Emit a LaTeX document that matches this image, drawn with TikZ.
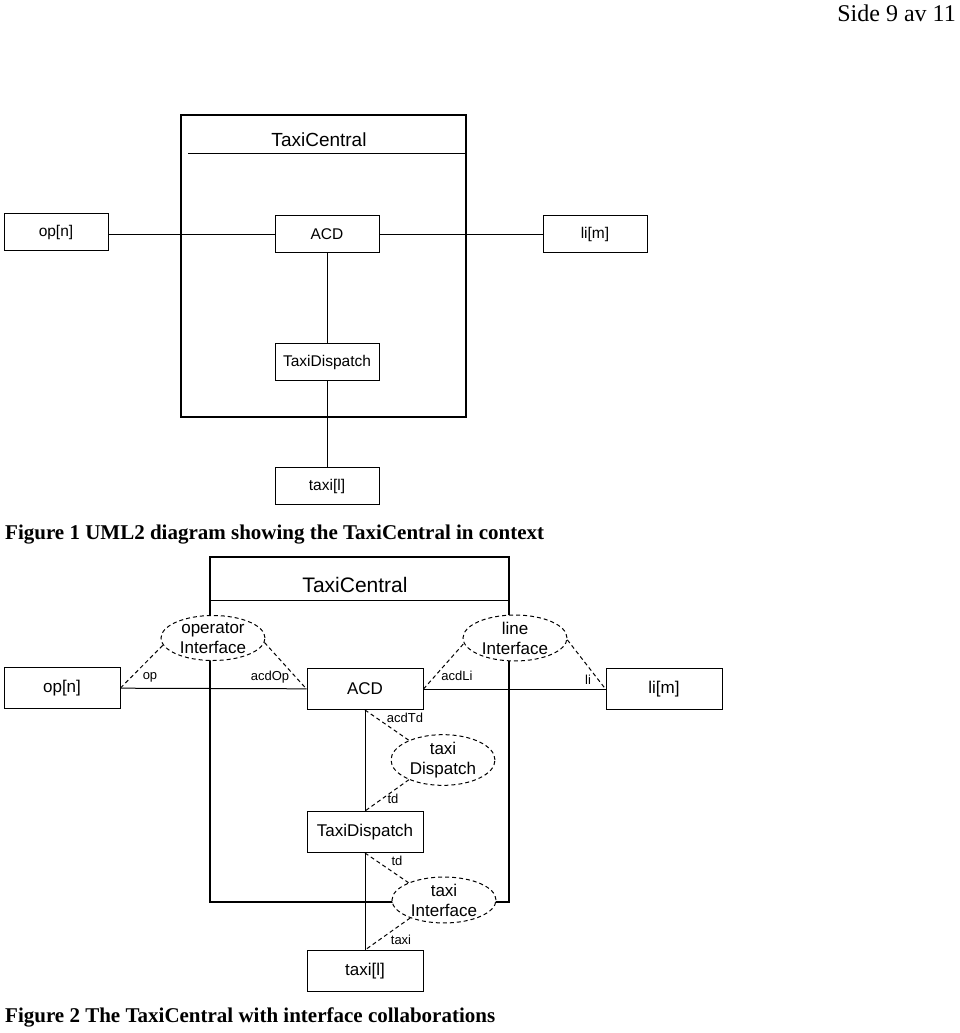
\documentclass[tikz,border=0pt]{standalone}
\usepackage{fontspec}
\setmainfont{Liberation Serif}
\newfontfamily\umlfont{Liberation Sans}
\usetikzlibrary{shapes.geometric}
\begin{document}
\begin{tikzpicture}[x=1pt,y=-1pt,
    part/.style={draw,line width=1pt,minimum width=104pt,minimum height=37pt,inner sep=0pt,font=\umlfont\fontsize{15.5}{18}\selectfont},
    bigpart/.style={draw,line width=1pt,minimum width=116pt,minimum height=41pt,inner sep=0pt,font=\umlfont\fontsize{17}{20}\selectfont},
    iface/.style={ellipse,draw,line width=1pt,dash pattern=on 4pt off 3pt,fill=white,minimum width=104pt,minimum height=45pt,inner sep=0pt,align=center,font=\umlfont\fontsize{17}{20}\selectfont},
    role/.style={inner sep=0pt,font=\umlfont\fontsize{13}{15}\selectfont},
    link/.style={line width=1pt},
    dlink/.style={line width=1pt,dash pattern=on 4pt off 3pt},
    caption/.style={anchor=base west,inner sep=0pt,font=\bfseries\fontsize{21}{25}\selectfont}]
    \useasboundingbox (0,0) rectangle (960,1033);
    \node[anchor=base east,inner sep=0pt,font=\fontsize{24}{28}\selectfont] (page) at (956,22) {Side 9 av 11};

    \draw[line width=2pt] (181,115) rectangle (466,417);
    \draw[link] (188,153) -- (466,153);
    \node[inner sep=0pt,font=\umlfont\fontsize{19}{22}\selectfont] (tcA) at (319,140) {TaxiCentral};
    \node[part] (opA) at (56,232) {op[n]};
    \node[part] (acdA) at (327,234) {ACD};
    \node[part] (liA) at (595,234) {li[m]};
    \node[part] (dispA) at (327,362) {TaxiDispatch};
    \node[part] (taxiA) at (327,486) {taxi[l]};
    \draw[link] (opA.east |- acdA) -- (acdA.west);
    \draw[link] (acdA) -- (liA);
    \draw[link] (acdA) -- (dispA);
    \draw[link] (dispA) -- (taxiA);
    \node[caption] (capA) at (5,539) {Figure 1 UML2 diagram showing the TaxiCentral in context};

    \draw[line width=2pt] (210,557) rectangle (509,902);
    \draw[link] (210,600) -- (509,600);
    \node[inner sep=0pt,font=\umlfont\fontsize{21}{24}\selectfont] (tcB) at (355,585) {TaxiCentral};
    \node[bigpart] (opB) at (62,688) {op[n]};
    \node[bigpart] (acdB) at (365,689) {ACD};
    \node[bigpart] (liB) at (664,689) {li[m]};
    \node[bigpart] (dispB) at (365,832) {TaxiDispatch};
    \node[bigpart] (taxiB) at (365,971) {taxi[l]};
    \draw[link] (opB) -- (acdB);
    \draw[link] (acdB) -- (liB);
    \draw[link] (acdB) -- (dispB);
    \draw[link] (dispB) -- (taxiB);
    \node[iface] (opif) at (213,638) {operator\\Interface};
    \node[iface] (lineif) at (515,638) {line\\Interface};
    \node[iface] (dispif) at (443,760) {taxi\\Dispatch};
    \node[iface] (taxiif) at (444,900) {taxi\\Interface};
    \draw[dlink] (opB.east) -- (opif.188);
    \draw[dlink] (opif.355) -- (acdB.west);
    \draw[dlink] (acdB.east) -- (lineif.186);
    \draw[dlink] (lineif.358) -- (liB.west);
    \draw[dlink] (acdB.south) -- (dispif.150);
    \draw[dlink] (dispif.210) -- (dispB.north);
    \draw[dlink] (dispB.south) -- (taxiif.154);
    \draw[dlink] (taxiif.208) -- (taxiB.north);
    \node[role] (rop) at (150,677) {op};
    \node[role] (racdop) at (270,677) {acdOp};
    \node[role] (racdli) at (457,676) {acdLi};
    \node[role] (rli) at (588,680) {li};
    \node[role] (racdtd) at (405,718) {acdTd};
    \node[role] (rtdA) at (393,799) {td};
    \node[role] (rtdB) at (397,861) {td};
    \node[role] (rtaxi) at (401,940) {taxi};
    \node[caption] (capB) at (5,1022) {Figure 2 The TaxiCentral with interface collaborations};
\end{tikzpicture}
\end{document}
